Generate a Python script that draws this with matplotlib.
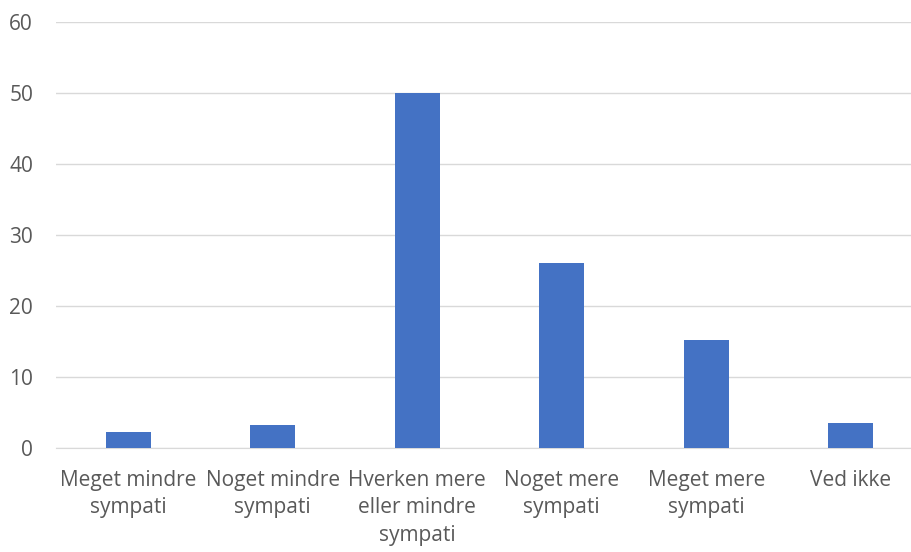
import matplotlib.pyplot as plt

categories = ['Meget mindre\nsympati', 'Noget mindre\nsympati', 'Hverken mere\neller mindre\nsympati',
              'Noget mere\nsympati', 'Meget mere\nsympati', 'Ved ikke']
values = [2.2, 3.1, 50, 26, 15.2, 3.4]
yticks = [0, 10, 20, 30, 40, 50, 60]

plt.rcParams['font.family'] = ['Open Sans', 'DejaVu Sans']

fig = plt.figure(figsize=(9.12, 5.52), dpi=100)
# axis extends slightly past the right edge, as in the reference
ax = fig.add_axes([56 / 912, 0.1893, 867 / 912, 0.7717])

x = range(len(categories))
ax.bar(x, values, width=0.31, color='#4472C4', zorder=3)

ax.set_xlim(-0.5, len(categories) - 0.5)
ax.set_ylim(0, 60)
ax.set_yticks(yticks)
ax.set_xticks(list(x))
ax.set_xticklabels(categories, fontsize=15, color='#595959', linespacing=1.41)
ax.tick_params(axis='y', labelsize=15, labelcolor='#595959', length=0, pad=16.5)
ax.tick_params(axis='x', length=0, pad=16)
ax.yaxis.grid(True, color='#D9D9D9', lw=1)
for s in ['top', 'right', 'left']:
    ax.spines[s].set_visible(False)
ax.spines['bottom'].set_color('#D9D9D9')

fig.savefig('out.png', dpi=100)
